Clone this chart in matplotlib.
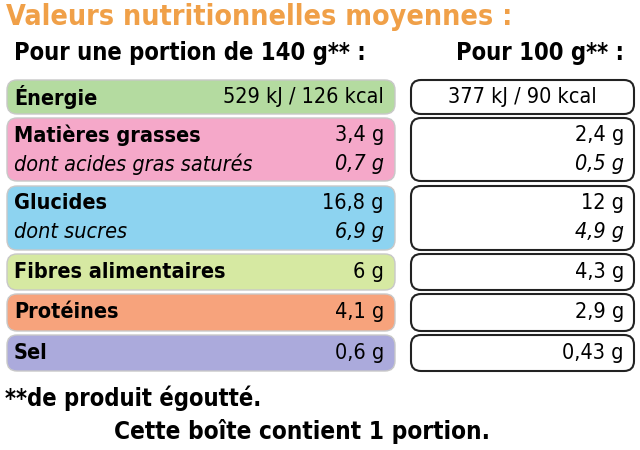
import matplotlib
matplotlib.use("Agg")
import matplotlib.pyplot as plt
from matplotlib.patches import FancyBboxPatch

title = "Valeurs nutritionnelles moyennes :"
header_portion = "Pour une portion de 140 g** :"
header_100 = "Pour 100 g** :"
labels = ["Énergie", "Matières grasses", "Glucides", "Fibres alimentaires", "Protéines", "Sel"]
sublabels = [None, "dont acides gras saturés", "dont sucres", None, None, None]
portion = ["529 kJ / 126 kcal", "3,4 g", "16,8 g", "6 g", "4,1 g", "0,6 g"]
portion_sub = [None, "0,7 g", "6,9 g", None, None, None]
per100 = ["377 kJ / 90 kcal", "2,4 g", "12 g", "4,3 g", "2,9 g", "0,43 g"]
per100_sub = [None, "0,5 g", "4,9 g", None, None, None]
colors = ["#b4dba0", "#f5a8c9", "#8dd3f0", "#d6e9a2", "#f7a37c", "#abaadc"]
footnote = "**de produit égoutté."
footer = "Cette boîte contient 1 portion."

rows_y = [(80, 114), (118, 181), (186, 250), (254, 290), (294, 331), (335, 371)]

fig = plt.figure(figsize=(6.4, 4.5), dpi=100)
ax = fig.add_axes([0, 0, 1, 1])
ax.set_xlim(0, 640); ax.set_ylim(450, 0); ax.axis("off")
F = dict(family="DejaVu Sans", fontstretch="condensed", fontweight="bold")
FI = dict(family="DejaVu Sans", fontstretch="condensed", fontstyle="italic")
FN = dict(family="DejaVu Sans", fontstretch="condensed")
S = 15.5

ax.text(6, 17, title, color="#f0a048", fontsize=20.5, va="center", **F)
ax.text(14, 53, header_portion, fontsize=17, va="center", **F)
ax.text(624, 53, header_100, fontsize=17, va="center", ha="right", **F)

for i, (y0, y1) in enumerate(rows_y):
    h = y1 - y0
    ax.add_patch(FancyBboxPatch((7, y0), 388, h, boxstyle="round,pad=0,rounding_size=10",
                                fc=colors[i], ec="#c8c8c8", lw=1))
    ax.add_patch(FancyBboxPatch((411, y0), 223, h, boxstyle="round,pad=0,rounding_size=10",
                                fc="white", ec="#222222", lw=1.5))
    if sublabels[i] is None:
        yc = (y0 + y1) / 2
        ax.text(14, yc, labels[i], fontsize=S, va="center", **F)
        ax.text(384, yc, portion[i], fontsize=S, va="center", ha="right", **FN)
        if i == 0:
            ax.text(522, yc, per100[i], fontsize=S, va="center", ha="center", **FN)
        else:
            ax.text(624, yc, per100[i], fontsize=S, va="center", ha="right", **FN)
    else:
        ya, yb = y0 + 17, y0 + 46
        ax.text(14, ya, labels[i], fontsize=S, va="center", **F)
        ax.text(14, yb, sublabels[i], fontsize=S, va="center", **FI)
        ax.text(384, ya, portion[i], fontsize=S, va="center", ha="right", **FN)
        ax.text(384, yb, portion_sub[i], fontsize=S, va="center", ha="right", **FI)
        ax.text(624, ya, per100[i], fontsize=S, va="center", ha="right", **FN)
        ax.text(624, yb, per100_sub[i], fontsize=S, va="center", ha="right", **FI)

ax.text(5, 398, footnote, fontsize=17, va="center", **F)
ax.text(302, 432, footer, fontsize=17.5, va="center", ha="center", **F)
fig.savefig("out.png", dpi=100)
